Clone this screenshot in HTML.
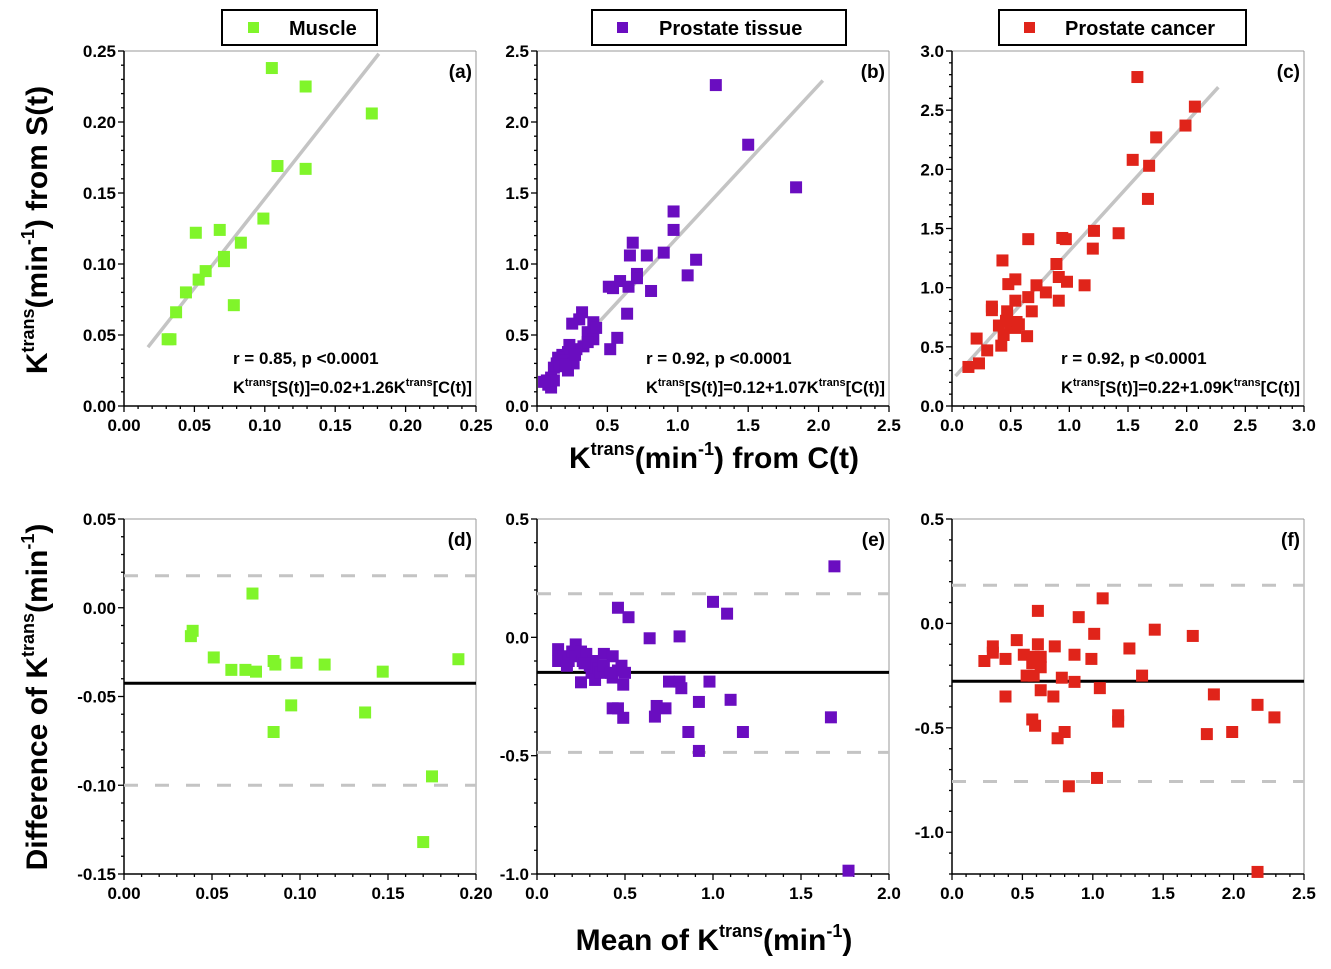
<!DOCTYPE html>
<html><head><meta charset="utf-8"><style>
html,body{margin:0;padding:0;background:#fff}
svg{display:block;font-family:"Liberation Sans",Arial,sans-serif;font-weight:bold}
</style></head><body>
<svg id="c" width="1331" height="969" viewBox="0 0 1331 969" xmlns="http://www.w3.org/2000/svg">
<g>
<rect x="222" y="10" width="155" height="35" fill="#fff" stroke="#000" stroke-width="2"/>
<rect x="248" y="22" width="11" height="11" fill="#80F52A"/>
<text x="289" y="35" font-size="20">Muscle</text></g>
<g>
<rect x="592" y="10" width="254" height="35" fill="#fff" stroke="#000" stroke-width="2"/>
<rect x="617" y="22" width="11" height="11" fill="#6A0DC0"/>
<text x="659" y="35" font-size="20">Prostate tissue</text></g>
<g>
<rect x="999" y="10" width="247" height="35" fill="#fff" stroke="#000" stroke-width="2"/>
<rect x="1024" y="22" width="11" height="11" fill="#E0241A"/>
<text x="1065" y="35" font-size="20">Prostate cancer</text></g>
<text x="714" y="468" font-size="30" text-anchor="middle">K<tspan font-size="18" dy="-13">trans</tspan><tspan dy="13">(min</tspan><tspan font-size="18" dy="-13">-1</tspan><tspan dy="13">) from C(t)</tspan></text>
<text x="714" y="950" font-size="30" text-anchor="middle">Mean of K<tspan font-size="18" dy="-13">trans</tspan><tspan dy="13">(min</tspan><tspan font-size="18" dy="-13">-1</tspan><tspan dy="13">)</tspan></text>
<text transform="translate(47,230) rotate(-90)" font-size="30" text-anchor="middle">K<tspan font-size="18" dy="-13">trans</tspan><tspan dy="13">(min</tspan><tspan font-size="18" dy="-13">-1</tspan><tspan dy="13">) from S(t)</tspan></text>
<text transform="translate(47,697) rotate(-90)" font-size="30" text-anchor="middle">Difference of K<tspan font-size="18" dy="-13">trans</tspan><tspan dy="13">(min</tspan><tspan font-size="18" dy="-13">-1</tspan><tspan dy="13">)</tspan></text>
</svg>
<script>
const NS="http://www.w3.org/2000/svg";
const svg=document.getElementById('c');
// ---- data ----
const muscleX=[0.105,0.129,0.176,0.109,0.129,0.099,0.051,0.068,0.083,0.071,0.071,0.058,0.053,0.044,0.037,0.078,0.031,0.033];
const muscleY=[0.238,0.225,0.206,0.169,0.167,0.132,0.122,0.124,0.115,0.105,0.102,0.095,0.089,0.080,0.066,0.071,0.047,0.047];
const tissueX=[1.27,1.50,1.84,0.97,0.97,0.68,0.66,0.78,0.90,1.13,1.07,0.71,0.71,0.51,0.54,0.59,0.65,0.81,0.64,0.57,0.52,0.32,0.30,0.25,0.36,0.40,0.42,0.40,0.33,0.36,0.28,0.23,0.22,0.18,0.15,0.14,0.19,0.22,0.26,0.12,0.16,0.10,0.07,0.08,0.10,0.12,0.05,0.20,0.27];
const tissueY=[2.26,1.84,1.54,1.37,1.24,1.15,1.06,1.06,1.08,1.03,0.92,0.93,0.90,0.84,0.83,0.88,0.84,0.81,0.65,0.48,0.40,0.66,0.61,0.58,0.52,0.59,0.55,0.47,0.42,0.45,0.40,0.43,0.38,0.36,0.34,0.30,0.32,0.25,0.30,0.27,0.28,0.20,0.18,0.15,0.13,0.18,0.17,0.29,0.36];
const cancerX=[1.58,2.07,1.99,1.74,1.54,1.68,1.67,1.21,1.42,1.20,0.65,0.94,0.97,0.43,0.89,0.91,0.98,1.13,0.48,0.54,0.72,0.80,0.65,0.54,0.91,0.34,0.34,0.47,0.68,0.40,0.55,0.54,0.50,0.57,0.44,0.64,0.42,0.21,0.30,0.23,0.14,0.46];
const cancerY=[2.78,2.53,2.37,2.27,2.08,2.03,1.75,1.48,1.46,1.33,1.41,1.42,1.41,1.23,1.20,1.09,1.05,1.02,1.03,1.07,1.02,0.96,0.92,0.89,0.89,0.84,0.81,0.80,0.80,0.68,0.71,0.66,0.70,0.69,0.60,0.59,0.51,0.57,0.47,0.36,0.33,0.72];
const dMuscleX=[0.038,0.039,0.051,0.061,0.069,0.075,0.073,0.085,0.086,0.098,0.114,0.147,0.190,0.095,0.085,0.137,0.175,0.170];
const dMuscleY=[-0.016,-0.013,-0.028,-0.035,-0.035,-0.036,0.008,-0.030,-0.032,-0.031,-0.032,-0.036,-0.029,-0.055,-0.070,-0.059,-0.095,-0.132];
const dTissueX=[1.69,1.00,1.08,0.46,0.52,0.64,0.81,1.67,1.77,0.98,1.10,0.92,0.86,1.17,0.92,0.75,0.81,0.82,0.68,0.73,0.67,0.43,0.46,0.49,0.12,0.12,0.15,0.18,0.20,0.22,0.22,0.25,0.26,0.28,0.30,0.31,0.32,0.33,0.35,0.36,0.38,0.38,0.43,0.43,0.46,0.48,0.49,0.25,0.50,0.17,0.27,0.42];
const dTissueY=[0.30,0.15,0.10,0.125,0.085,-0.004,0.004,-0.338,-0.986,-0.187,-0.264,-0.273,-0.40,-0.40,-0.48,-0.187,-0.187,-0.215,-0.29,-0.30,-0.335,-0.30,-0.30,-0.34,-0.05,-0.10,-0.08,-0.10,-0.06,-0.03,-0.08,-0.06,-0.10,-0.07,-0.12,-0.15,-0.10,-0.18,-0.13,-0.15,-0.07,-0.12,-0.08,-0.17,-0.14,-0.12,-0.20,-0.19,-0.15,-0.12,-0.11,-0.15];
const dCancerX=[1.07,0.61,0.90,1.01,1.44,1.71,0.46,0.61,0.29,0.29,0.73,1.26,0.23,0.38,0.51,0.87,0.99,0.58,0.63,0.57,0.63,0.53,0.58,0.78,0.87,1.35,0.63,1.05,0.72,0.38,1.86,2.17,2.29,0.57,0.59,0.80,0.75,1.18,1.18,1.81,1.99,1.03,0.83,2.17];
const dCancerY=[0.12,0.06,0.03,-0.05,-0.03,-0.06,-0.08,-0.10,-0.11,-0.14,-0.11,-0.12,-0.18,-0.17,-0.15,-0.15,-0.17,-0.16,-0.16,-0.19,-0.21,-0.25,-0.25,-0.26,-0.28,-0.25,-0.32,-0.31,-0.35,-0.35,-0.34,-0.39,-0.45,-0.46,-0.49,-0.52,-0.55,-0.44,-0.47,-0.53,-0.52,-0.74,-0.78,-1.19];
const fitA=[0.017,0.181], fitB=[0.03,2.03], fitC=[0.03,2.27];
const coefA=[0.02,1.26], coefB=[0.12,1.07], coefC=[0.22,1.09];
const blandD=[-0.0425,0.018,-0.100], blandE=[-0.148,0.184,-0.486], blandF=[-0.277,0.183,-0.757];
// ---- helpers ----
function el(tag,attrs,parent){const e=document.createElementNS(NS,tag);for(const k in attrs)e.setAttribute(k,attrs[k]);(parent||svg).appendChild(e);return e;}
function ticks(min,max,step){const out=[];const mstep=step/5;const s=Math.ceil(min/mstep-1e-6);const e=Math.floor(max/mstep+1e-6);
 for(let i=s;i<=e;i++){out.push({v:i*mstep,maj:Math.abs(i%5)===0});}return out;}
function panel(o){
 const g=el('g',{});
 
 
 const X=v=>o.x0+(v-o.xmin)/(o.xmax-o.xmin)*(o.x1-o.x0);
 const Y=v=>o.y1-(v-o.ymin)/(o.ymax-o.ymin)*(o.y1-o.y0);
 el('line',{x1:o.x0,y1:o.y0,x2:o.x1,y2:o.y0,stroke:'#999','stroke-width':1},g);
 el('line',{x1:o.x1,y1:o.y0,x2:o.x1,y2:o.y1,stroke:'#999','stroke-width':1},g);
 ticks(o.xmin,o.xmax,o.xs).forEach(t=>{const px=X(t.v);
  el('line',{x1:px,y1:o.y1,x2:px,y2:o.y1+(t.maj?6:3),stroke:'#000','stroke-width':1.3},g);
  if(t.maj){const tx=el('text',{x:px,y:o.y1+25,'font-size':17,'text-anchor':'middle'},g);tx.textContent=(Math.abs(t.v)<1e-9?0:t.v).toFixed(o.xd);
   
   }});
 ticks(o.ymin,o.ymax,o.ys).forEach(t=>{const py=Y(t.v);
  el('line',{x1:o.x0,y1:py,x2:o.x0-(t.maj?6:3),y2:py,stroke:'#000','stroke-width':1.3},g);
  if(t.maj){const tx=el('text',{x:o.x0-8,y:py+6,'font-size':17,'text-anchor':'end'},g);tx.textContent=(Math.abs(t.v)<1e-9?0:t.v).toFixed(o.yd);
   
   }});
 el('line',{x1:o.x0,y1:o.y0,x2:o.x0,y2:o.y1,stroke:'#000','stroke-width':1.5},g);
 el('line',{x1:o.x0,y1:o.y1,x2:o.x1,y2:o.y1,stroke:'#000','stroke-width':1.5},g);
 if(o.fit){const l=el('line',{x1:X(o.fit[0]),y1:Y(o.coef[0]+o.coef[1]*o.fit[0]),x2:X(o.fit[1]),y2:Y(o.coef[0]+o.coef[1]*o.fit[1]),stroke:'#c4c4c4','stroke-width':3.5},g);
  
  }
 if(o.bland){
  [1,2].forEach(k=>{const l=el('line',{x1:o.x0,y1:Y(o.bland[k]),x2:o.x1,y2:Y(o.bland[k]),stroke:'#c4c4c4','stroke-width':3,'stroke-dasharray':'14 17'},g);
   
   });
  const l=el('line',{x1:o.x0,y1:Y(o.bland[0]),x2:o.x1,y2:Y(o.bland[0]),stroke:'#000','stroke-width':3},g);
  
  }
 o.xs_.forEach((xv,i)=>{const r=el('rect',{x:X(xv)-6,y:Y(o.ys_[i])-6,width:12,height:12,fill:o.color},g);
  
  });
 const lab=el('text',{x:o.x1-4,y:o.y0+27,'font-size':19,'text-anchor':'end'},g);lab.textContent=o.label;
 
 
 if(o.r){
  const b=el('text',{x:o.x1-4,y:o.y1-13,'font-size':16.5,'text-anchor':'end'},g);
  
  
  b.innerHTML='K<tspan font-size="11" dy="-7">trans</tspan><tspan dy="7">[S(t)]='+o.coef[0].toFixed(2)+'+'+o.coef[1].toFixed(2)+'K</tspan><tspan font-size="11" dy="-7">trans</tspan><tspan dy="7">[C(t)]</tspan>';
  let bx=o.x0+(o.x1-o.x0)*0.31;try{bx=b.getBBox().x;}catch(e){}
  const a=el('text',{x:bx,y:o.y1-42,'font-size':17},g);a.textContent=o.r;
  
  }
}
const G='#80F52A',P='#6A0DC0',R='#E0241A';
panel({name:'panel-a-muscle',x0:124,x1:476,y0:51,y1:406,xmin:0,xmax:0.25,xs:0.05,xd:2,ymin:0,ymax:0.25,ys:0.05,yd:2,xs_:muscleX,ys_:muscleY,color:G,label:'(a)',fit:fitA,coef:coefA,r:'r = 0.85, p <0.0001'});
panel({name:'panel-b-prostate-tissue',x0:537,x1:889,y0:51,y1:406,xmin:0,xmax:2.5,xs:0.5,xd:1,ymin:0,ymax:2.5,ys:0.5,yd:1,xs_:tissueX,ys_:tissueY,color:P,label:'(b)',fit:fitB,coef:coefB,r:'r = 0.92, p <0.0001'});
panel({name:'panel-c-prostate-cancer',x0:952,x1:1304,y0:51,y1:406,xmin:0,xmax:3,xs:0.5,xd:1,ymin:0,ymax:3,ys:0.5,yd:1,xs_:cancerX,ys_:cancerY,color:R,label:'(c)',fit:fitC,coef:coefC,r:'r = 0.92, p <0.0001'});
panel({name:'panel-d-muscle-bland-altman',x0:124,x1:476,y0:519,y1:874,xmin:0,xmax:0.2,xs:0.05,xd:2,ymin:-0.15,ymax:0.05,ys:0.05,yd:2,xs_:dMuscleX,ys_:dMuscleY,color:G,label:'(d)',bland:blandD});
panel({name:'panel-e-tissue-bland-altman',x0:537,x1:889,y0:519,y1:874,xmin:0,xmax:2,xs:0.5,xd:1,ymin:-1,ymax:0.5,ys:0.5,yd:1,xs_:dTissueX,ys_:dTissueY,color:P,label:'(e)',bland:blandE});
panel({name:'panel-f-cancer-bland-altman',x0:952,x1:1304,y0:519,y1:874,xmin:0,xmax:2.5,xs:0.5,xd:1,ymin:-1.2,ymax:0.5,ys:0.5,yd:1,xs_:dCancerX,ys_:dCancerY,color:R,label:'(f)',bland:blandF});
</script>
</body></html>
